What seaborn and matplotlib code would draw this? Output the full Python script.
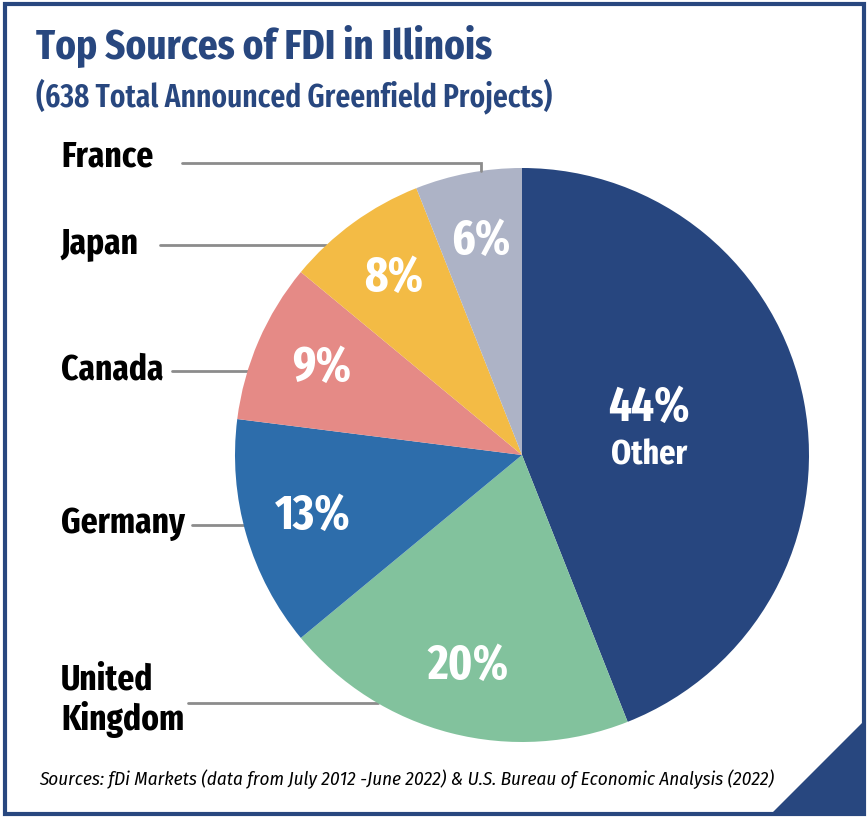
import numpy as np
import matplotlib
matplotlib.use("Agg")
import matplotlib.pyplot as plt
import matplotlib.patches as mpatches
import seaborn as sns

# ── Data ─────────────────────────────────────────────────────────────────────
countries = ["Other", "United Kingdom", "Germany", "Canada", "Japan", "France"]
shares = [44, 20, 13, 9, 8, 6]
colors = ["#27467f", "#82c29d", "#2d6dab", "#e58a86", "#f3bb45", "#adb3c6"]
side_labels = ["France", "Japan", "Canada", "Germany", "United\nKingdom"]

TITLE = "Top Sources of FDI in Illinois"
SUBTITLE = "(638 Total Announced Greenfield Projects)"
SOURCE = ("Sources: fDi Markets (data from July 2012 -June 2022) & "
          "U.S. Bureau of Economic Analysis (2022)")

NAVY = "#28477f"
GRAY = "#8c8c8c"

sns.set_theme(style="white")
XCOND = ["Fira Sans Extra Condensed", "Fira Sans Condensed", "Roboto Condensed", "DejaVu Sans"]
COND = ["Fira Sans Condensed", "Roboto Condensed", "DejaVu Sans"]
plt.rcParams["font.family"] = XCOND

W, H = 868, 818
fig = plt.figure(figsize=(W / 100, H / 100), dpi=100)
fig.patch.set_facecolor("white")

# pie axes: centre (522, 455) px, radius 287 px
cx, cy, r = 522, 455, 287
ax = fig.add_axes([(cx - r) / W, (H - cy - r) / H, 2 * r / W, 2 * r / H])
wedges, _ = ax.pie(shares, colors=colors, startangle=90, counterclock=False,
                   radius=1, wedgeprops=dict(linewidth=0))
ax.set_xlim(-1, 1)
ax.set_ylim(-1, 1)
ax.set_aspect("equal")
ax.axis("off")

# percentage labels inside wedges
for i, (w, s) in enumerate(zip(wedges, shares)):
    mid = np.deg2rad((w.theta1 + w.theta2) / 2)
    if i == 0:
        d = 0.45
        x, y = d * np.cos(mid), d * np.sin(mid)
        ax.text(x, y + 0.08, f"{s}%", color="white", fontsize=35,
                fontweight="bold", ha="center", va="center")
        ax.text(x, y - 0.085, countries[0], color="white", fontsize=25,
                fontweight="bold", ha="center", va="center")
    else:
        d = 0.76
        ax.text(d * np.cos(mid), d * np.sin(mid), f"{s}%", color="white",
                fontsize=35, fontweight="bold", ha="center", va="center")

# side labels with leader lines (pixel positions -> pie data units)
def px(x, y):
    return (x - cx) / r, (cy - y) / r

label_y = [157, 243, 370, 523, 700]
line_y = [163, 245, 371, 525, 703]
line_x0 = [182, 160, 172, 192, 188]
for lab, ly, yy, x0 in zip(side_labels, label_y, line_y, line_x0):
    tx, ty = px(61, ly)
    ax.text(tx, ty, lab, fontsize=26, fontweight="bold", color="black",
            ha="left", va="center", linespacing=1.1, clip_on=False)
    xa, ya = px(x0, yy)
    if lab == "France":
        xb, _ = px(481, yy)
        yend = np.sqrt(1 - xb ** 2)
        ax.plot([xa, xb, xb], [ya, ya, yend], color=GRAY, lw=2, clip_on=False,
                solid_joinstyle="miter")
    else:
        xend = -np.sqrt(1 - ya ** 2)
        ax.plot([xa, xend], [ya, ya], color=GRAY, lw=2, clip_on=False, zorder=0)

# title / subtitle / source
fig.text(36 / W, 1 - 46 / H, TITLE, fontsize=30.5, fontweight="bold",
         color=NAVY, ha="left", va="center")
fig.text(36 / W, 1 - 96 / H, SUBTITLE, fontsize=23, fontweight="semibold",
         color=NAVY, ha="left", va="center")
fig.text(407 / W, 1 - 779 / H, SOURCE, fontsize=13.7, style="italic",
         color="black", ha="center", va="center", family=COND)

# frame and corner triangle
fig.patches.append(mpatches.Rectangle((4.5 / W, 4 / H), (W - 8.5) / W, (H - 8) / H,
                                      transform=fig.transFigure, fill=False,
                                      edgecolor=NAVY, linewidth=3))
fig.patches.append(mpatches.Polygon([(866 / W, (H - 719) / H), (866 / W, 2 / H),
                                     (769 / W, 2 / H)], closed=True,
                                    transform=fig.transFigure, facecolor=NAVY,
                                    edgecolor="none"))

fig.savefig("out.png", dpi=100)
